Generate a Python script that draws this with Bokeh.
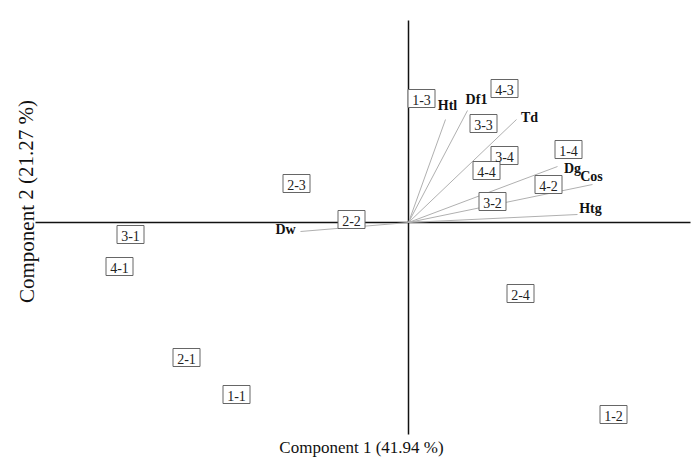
from bokeh.plotting import figure
from bokeh.models import ColumnDataSource, Label
from bokeh.core.properties import value
from bokeh.embed import file_html
from bokeh.resources import INLINE

# Sample scores (Component 1, Component 2)
samples = ["1-1", "1-2", "1-3", "1-4", "2-1", "2-2", "2-3", "2-4",
           "3-1", "3-2", "3-3", "3-4", "4-1", "4-2", "4-3", "4-4"]
pc1 = [-1.72, 2.05, 0.13, 1.60, -2.22, -0.57, -1.12, 1.12,
       -2.78, 0.84, 0.75, 0.96, -2.89, 1.40, 0.96, 0.78]
pc2 = [-1.72, -1.92, 1.24, 0.73, -1.35, 0.03, 0.39, -0.71,
       -0.12, 0.21, 0.99, 0.67, -0.44, 0.38, 1.34, 0.52]

# Variable loadings
variables = ["Htl", "Df1", "Td", "Dg", "Cos", "Htg", "Dw"]
load1 = [0.37, 0.59, 1.08, 1.49, 1.84, 1.69, -1.08]
load2 = [1.03, 1.12, 1.03, 0.56, 0.38, 0.08, -0.09]

# label offsets (screen px) for variable names
lab_dx = [2, 9, 13, 15, -1, 13, -15]
lab_dy = [-14, -11, -2, 2, -8, -6, -2]

x_title = "Component 1 (41.94 %)"
y_title = "Component 2 (21.27 %)"

FONT = "Liberation Serif"

p = figure(width=692, height=462, x_range=(-4.08, 2.84), y_range=(-2.40, 2.22),
           x_axis_type=None, y_axis_type=None, min_border=0,
           output_backend="svg", toolbar_location=None,
           outline_line_color=None)
p.grid.visible = False

# axis lines through the origin
p.segment(x0=[-3.73, 0], y0=[0, 2.02], x1=[2.82, 0], y1=[0, -2.12],
          line_color="#111111", line_width=1.5)

# loading vectors
vsrc = ColumnDataSource(dict(x0=[0] * len(variables), y0=[0] * len(variables),
                             x1=load1, y1=load2, name=variables,
                             dx=lab_dx, dy=lab_dy))
p.segment(x0="x0", y0="y0", x1="x1", y1="y1", source=vsrc,
          line_color="#b0b0b0", line_width=1)
p.text(x="x1", y="y1", text="name", source=vsrc, x_offset="dx", y_offset="dy",
       text_font=value(FONT), text_font_style="bold", text_font_size="14px",
       text_color="#111111", text_align="center", text_baseline="middle")

# sample boxes
ssrc = ColumnDataSource(dict(x=pc1, y=pc2, name=samples))
p.rect(x="x", y="y", width=27, height=18, width_units="screen",
       height_units="screen", source=ssrc, fill_color="white",
       line_color="#666666", line_width=1)
p.text(x="x", y="y", text="name", source=ssrc, text_font=value(FONT),
       text_font_size="14px", text_color="#222222", text_align="center",
       text_baseline="middle", y_offset=1)

# axis titles
p.add_layout(Label(x=-0.47, y=-2.25, text=x_title, text_font=FONT,
                   text_font_size="17px", text_color="#111111",
                   text_align="center", text_baseline="middle"))
p.add_layout(Label(x=-3.82, y=0.21, text=y_title, text_font=FONT,
                   text_font_size="21px", text_color="#111111",
                   text_align="center", text_baseline="middle", angle=1.5708))

open("out.html", "w").write(file_html(p, INLINE))
